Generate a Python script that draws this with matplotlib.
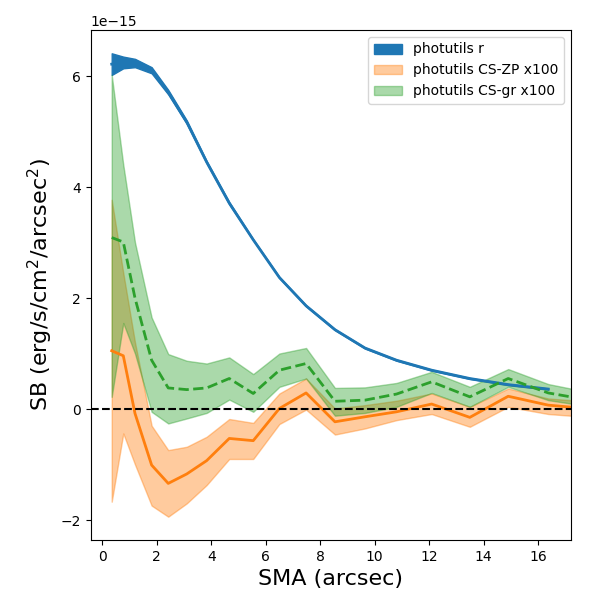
import matplotlib
matplotlib.use("Agg")
import matplotlib.pyplot as plt
import numpy as np

# SMA grid (arcsec)
sma = [0.345, 0.77, 1.20, 1.81, 2.42, 3.10, 3.83, 4.66, 5.54, 6.50, 7.48,
       8.54, 9.64, 10.80, 12.09, 13.49, 14.90, 16.37, 18.0]

# photutils r profile (units of 1e-15)
r_sb = [6.215, 6.245, 6.235, 6.105, 5.71, 5.17, 4.45, 3.71, 3.05, 2.37, 1.86,
        1.43, 1.10, 0.88, 0.70, 0.55, 0.44, 0.36]
r_err = [0.195, 0.105, 0.075, 0.055, 0.04, 0.03, 0.02, 0.02, 0.01, 0.01, 0.01,
         0.01, 0.01, 0.01, 0.01, 0.01, 0.01, 0.01]

# CS-ZP x100
zp_sb = [1.05, 0.96, -0.08, -1.01, -1.34, -1.17, -0.93, -0.53, -0.57, 0.01, 0.29,
         -0.23, -0.14, -0.05, 0.09, -0.15, 0.23, 0.07, 0.0]
zp_hi = [3.77, 2.45, 1.20, -0.30, -0.74, -0.68, -0.50, -0.18, -0.25, 0.28, 0.55,
         0.01, 0.07, 0.15, 0.28, 0.04, 0.37, 0.19, 0.13]
zp_lo = [-1.67, -0.44, -1.00, -1.74, -1.94, -1.70, -1.37, -0.90, -0.90, -0.27, -0.01,
         -0.46, -0.35, -0.20, -0.09, -0.32, 0.04, -0.09, -0.15]

# CS-gr x100
gr_sb = [3.09, 3.01, 2.00, 0.88, 0.38, 0.35, 0.38, 0.55, 0.28, 0.70, 0.82,
         0.14, 0.16, 0.27, 0.49, 0.22, 0.55, 0.29, 0.15]
gr_hi = [6.02, 4.40, 3.00, 1.65, 0.99, 0.87, 0.82, 0.93, 0.63, 1.00, 1.10,
         0.38, 0.39, 0.47, 0.67, 0.40, 0.72, 0.45, 0.29]
gr_lo = [0.22, 1.55, 1.00, -0.05, -0.26, -0.17, -0.07, 0.17, -0.05, 0.40, 0.55,
         -0.12, -0.07, 0.04, 0.29, 0.04, 0.40, 0.16, 0.04]

scale = 1e-15

x = np.array(sma)
xr = x[:len(r_sb)]
r = np.array(r_sb) * scale
re = np.array(r_err) * scale

fig = plt.figure(figsize=(6, 6), dpi=100)
ax = fig.add_axes([0.151, 0.10, 0.800, 0.85])

ax.fill_between(xr, r - re, r + re, color="C0", alpha=1.0, label="photutils r")
ax.plot(xr, r, color="C0", lw=2)

ax.fill_between(x, np.array(zp_lo) * scale, np.array(zp_hi) * scale,
                color="C1", alpha=0.4, label="photutils CS-ZP x100")
ax.plot(x, np.array(zp_sb) * scale, color="C1", lw=2)

ax.fill_between(x, np.array(gr_lo) * scale, np.array(gr_hi) * scale,
                color="C2", alpha=0.4, label="photutils CS-gr x100")
ax.plot(x, np.array(gr_sb) * scale, color="C2", lw=2, ls="--")

ax.axhline(0, color="k", ls="--", lw=1.5)

ax.set_xlim(-0.43, 17.19)
ax.set_ylim(-2.36e-15, 6.83e-15)
ax.set_xlabel("SMA (arcsec)", fontsize=16)
ax.set_ylabel("SB (erg/s/cm$^2$/arcsec$^2$)", fontsize=16)
ax.legend(loc="upper right")

fig.savefig("out.png", dpi=100)
